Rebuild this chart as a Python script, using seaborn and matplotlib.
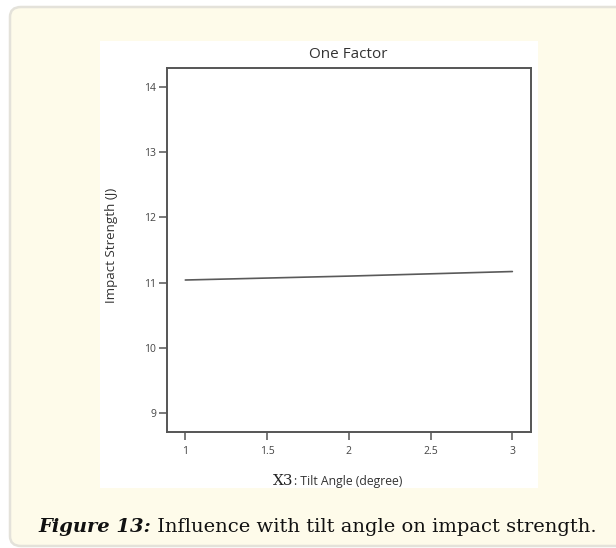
import matplotlib
matplotlib.use("Agg")
import matplotlib.pyplot as plt
import seaborn as sns
import pandas as pd
from matplotlib.patches import FancyBboxPatch, Rectangle
from matplotlib.ticker import FixedLocator, FixedFormatter

# ---- data ----
tilt_angle = [1, 2, 3]
impact_strength = [11.04, 11.10, 11.17]
x_ticks = [1, 1.5, 2, 2.5, 3]
x_tick_labels = ["1", "1.5", "2", "2.5", "3"]
y_ticks = [9, 10, 11, 12, 13, 14]
y_tick_labels = ["9", "10", "11", "12", "13", "14"]
title_text = "One Factor"
ylabel_text = "Impact Strength (J)"
xlabel_sym = "X3"
xlabel_text = ": Tilt Angle (degree)"
caption_bold = "Figure 13:"
caption_text = " Influence with tilt angle on impact strength."

sns.set_theme(style="white")
plt.rcParams["font.family"] = ["Open Sans", "DejaVu Sans"]

W, H = 616, 548
fig = plt.figure(figsize=(W / 100, H / 100), dpi=100)
fig.patch.set_facecolor("white")

def fx(px):
    return px / W

def fy(py):
    return 1 - py / H

# cream panel with rounded border
panel = FancyBboxPatch((fx(10), fy(546)), fx(640) - fx(10), fy(7) - fy(546),
                       boxstyle="round,pad=0,rounding_size=0.018",
                       transform=fig.transFigure, facecolor="#fefbea",
                       edgecolor="#e4e2da", linewidth=1.8, zorder=0)
fig.patches.append(panel)
# white image box
wbox = Rectangle((fx(100), fy(488)), fx(538) - fx(100), fy(41) - fy(488),
                 transform=fig.transFigure, facecolor="white",
                 edgecolor="none", zorder=0.5)
fig.patches.append(wbox)

ax = fig.add_axes([fx(167), fy(432), fx(531) - fx(167), fy(68) - fy(432)])
ax.set_zorder(2)
ax.set_facecolor("white")
df = pd.DataFrame({"x": tilt_angle, "y": impact_strength})
sns.lineplot(data=df, x="x", y="y", ax=ax, color="#5a5a5a", linewidth=1.2)

ax.set_xlim(0.888, 3.114)
ax.set_ylim(8.71, 14.29)
ax.xaxis.set_major_locator(FixedLocator(x_ticks))
ax.xaxis.set_major_formatter(FixedFormatter(x_tick_labels))
ax.yaxis.set_major_locator(FixedLocator(y_ticks))
ax.yaxis.set_major_formatter(FixedFormatter(y_tick_labels))
ax.set_xlabel("")
ax.set_ylabel("")
for s in ax.spines.values():
    s.set_color("#555555")
    s.set_linewidth(1.4)
    s.set_visible(True)
ax.tick_params(axis="both", direction="out", length=6, width=1.1,
               color="#555555", labelcolor="#444444", labelsize=7.5,
               bottom=True, left=True)
ax.tick_params(axis="y", pad=2)
ax.tick_params(axis="x", pad=4)

# title
fig.text(fx(348), fy(55), title_text, ha="center", va="center",
         fontsize=11, color="#333333", zorder=3)
# y label
fig.text(fx(112), fy(245), ylabel_text, ha="center", va="center",
         rotation=90, fontsize=9.6, color="#333333", zorder=3)
# x label
fig.text(fx(293), fy(485), xlabel_sym, ha="right", va="baseline",
         fontsize=11, family="DejaVu Serif", color="#222222", zorder=3)
fig.text(fx(294), fy(485), xlabel_text, ha="left", va="baseline",
         fontsize=8.8, color="#333333", zorder=3)

# caption
t1 = fig.text(fx(38), fy(532), caption_bold, ha="left", va="baseline",
              fontsize=14, family="DejaVu Serif", fontweight="bold",
              fontstyle="italic", color="#111111", zorder=3)
fig.canvas.draw()
bb = t1.get_window_extent()
fig.text(bb.x1 / W, fy(532), caption_text, ha="left", va="baseline",
         fontsize=14, family="DejaVu Serif", color="#111111", zorder=3)

fig.savefig("out.png", dpi=100)
